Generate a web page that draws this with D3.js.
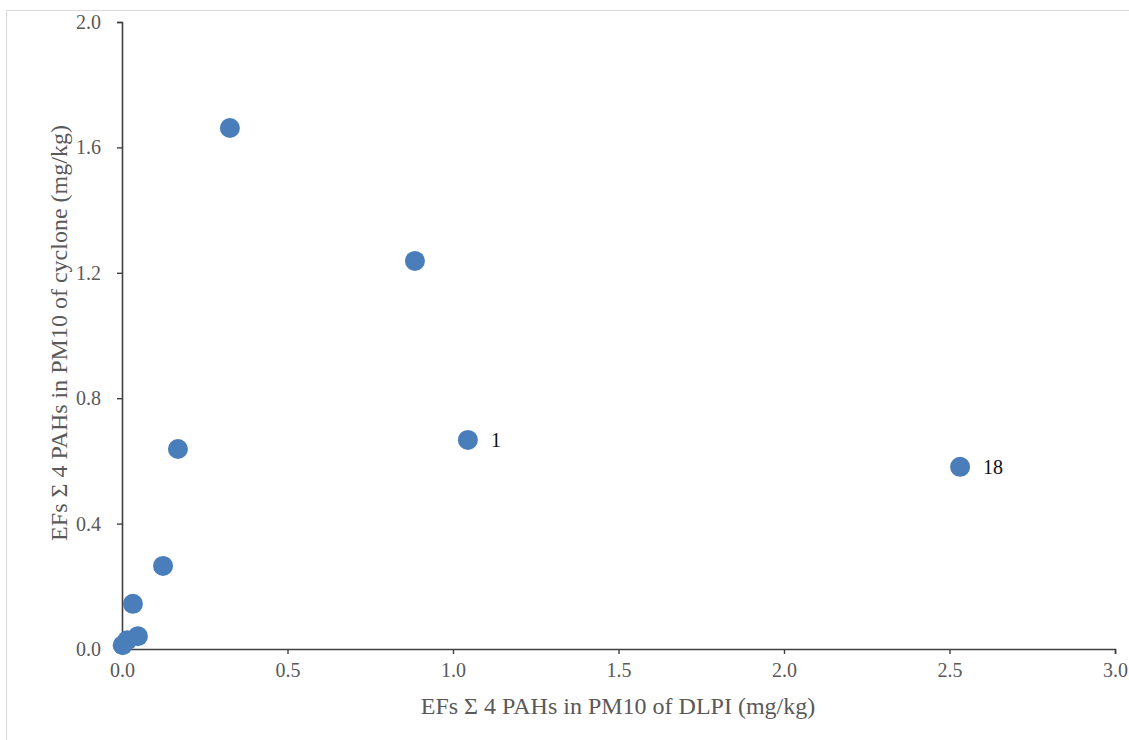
<!DOCTYPE html>
<html>
<head>
<meta charset="utf-8">
<script src="https://cdn.jsdelivr.net/npm/d3@7"></script>
<style>
  body { margin: 0; background: #fff; }
  text { font-family: "Liberation Serif", "Times New Roman", serif; }
</style>
</head>
<body>
<svg id="chart" width="1129" height="740"></svg>
<script>
// EFs of sum of 4 PAHs, DLPI (x) vs cyclone (y), mg/kg
var dlpi    = [0.326, 0.885, 1.045, 2.532, 0.169, 0.124, 0.033, 0.048, 0.016, 0.002];
var cyclone = [1.662, 1.238, 0.667, 0.581, 0.638, 0.265, 0.144, 0.041, 0.028, 0.012];
var pointLabels = ["", "", "1", "18", "", "", "", "", "", ""];
var xTicks = [0, 0.5, 1.0, 1.5, 2.0, 2.5, 3.0];
var yTicks = [0, 0.4, 0.8, 1.2, 1.6, 2.0];

var svg = d3.select("#chart");

// light frame round the plot (only top and left show)
svg.append("rect").attr("x", 6.5).attr("y", 10.5)
    .attr("width", 1140).attr("height", 760)
    .attr("fill", "none").attr("stroke", "#d9d9d9");

var x = d3.scaleLinear().domain([0, 3]).range([122, 1115]);
var y = d3.scaleLinear().domain([0, 2]).range([649, 22]);

var xAxis = svg.append("g")
    .attr("transform", "translate(0,649)")
    .call(d3.axisBottom(x).tickValues(xTicks).tickFormat(d3.format(".1f")).tickSizeOuter(0).tickSize(5).tickPadding(9));
var yAxis = svg.append("g")
    .attr("transform", "translate(122,0)")
    .call(d3.axisLeft(y).tickValues(yTicks).tickFormat(d3.format(".1f")).tickSizeOuter(0).tickSize(5).tickPadding(16));

[xAxis, yAxis].forEach(function (a) {
    a.attr("font-family", null).attr("font-size", null);
    a.select(".domain").attr("stroke", "#404040").attr("stroke-width", 1.6);
    a.selectAll(".tick line").attr("stroke", "#404040").attr("stroke-width", 1.4);
    a.selectAll(".tick text").attr("fill", "#595959").style("font-size", "20px");
});

svg.append("text")
    .attr("x", 618).attr("y", 714)
    .attr("text-anchor", "middle")
    .attr("fill", "#595959").style("font-size", "24px")
    .text("EFs \u03A3 4 PAHs in PM10 of DLPI (mg/kg)");

svg.append("text")
    .attr("transform", "translate(67,333) rotate(-90)")
    .attr("text-anchor", "middle")
    .attr("fill", "#595959").style("font-size", "24px")
    .text("EFs \u03A3 4 PAHs in PM10 of cyclone (mg/kg)");

var pts = dlpi.map(function (d, i) { return {x: d, y: cyclone[i], lab: pointLabels[i]}; });

svg.append("g").selectAll("circle").data(pts).enter().append("circle")
    .attr("cx", function (d) { return x(d.x); })
    .attr("cy", function (d) { return y(d.y); })
    .attr("r", 10)
    .attr("fill", "#4a7ebb");

svg.append("g").selectAll("text").data(pts.filter(function (d) { return d.lab; })).enter().append("text")
    .attr("x", function (d) { return x(d.x) + 23; })
    .attr("y", function (d) { return y(d.y) + 7; })
    .attr("fill", "#111").style("font-size", "20px")
    .text(function (d) { return d.lab; });
</script>
</body>
</html>
